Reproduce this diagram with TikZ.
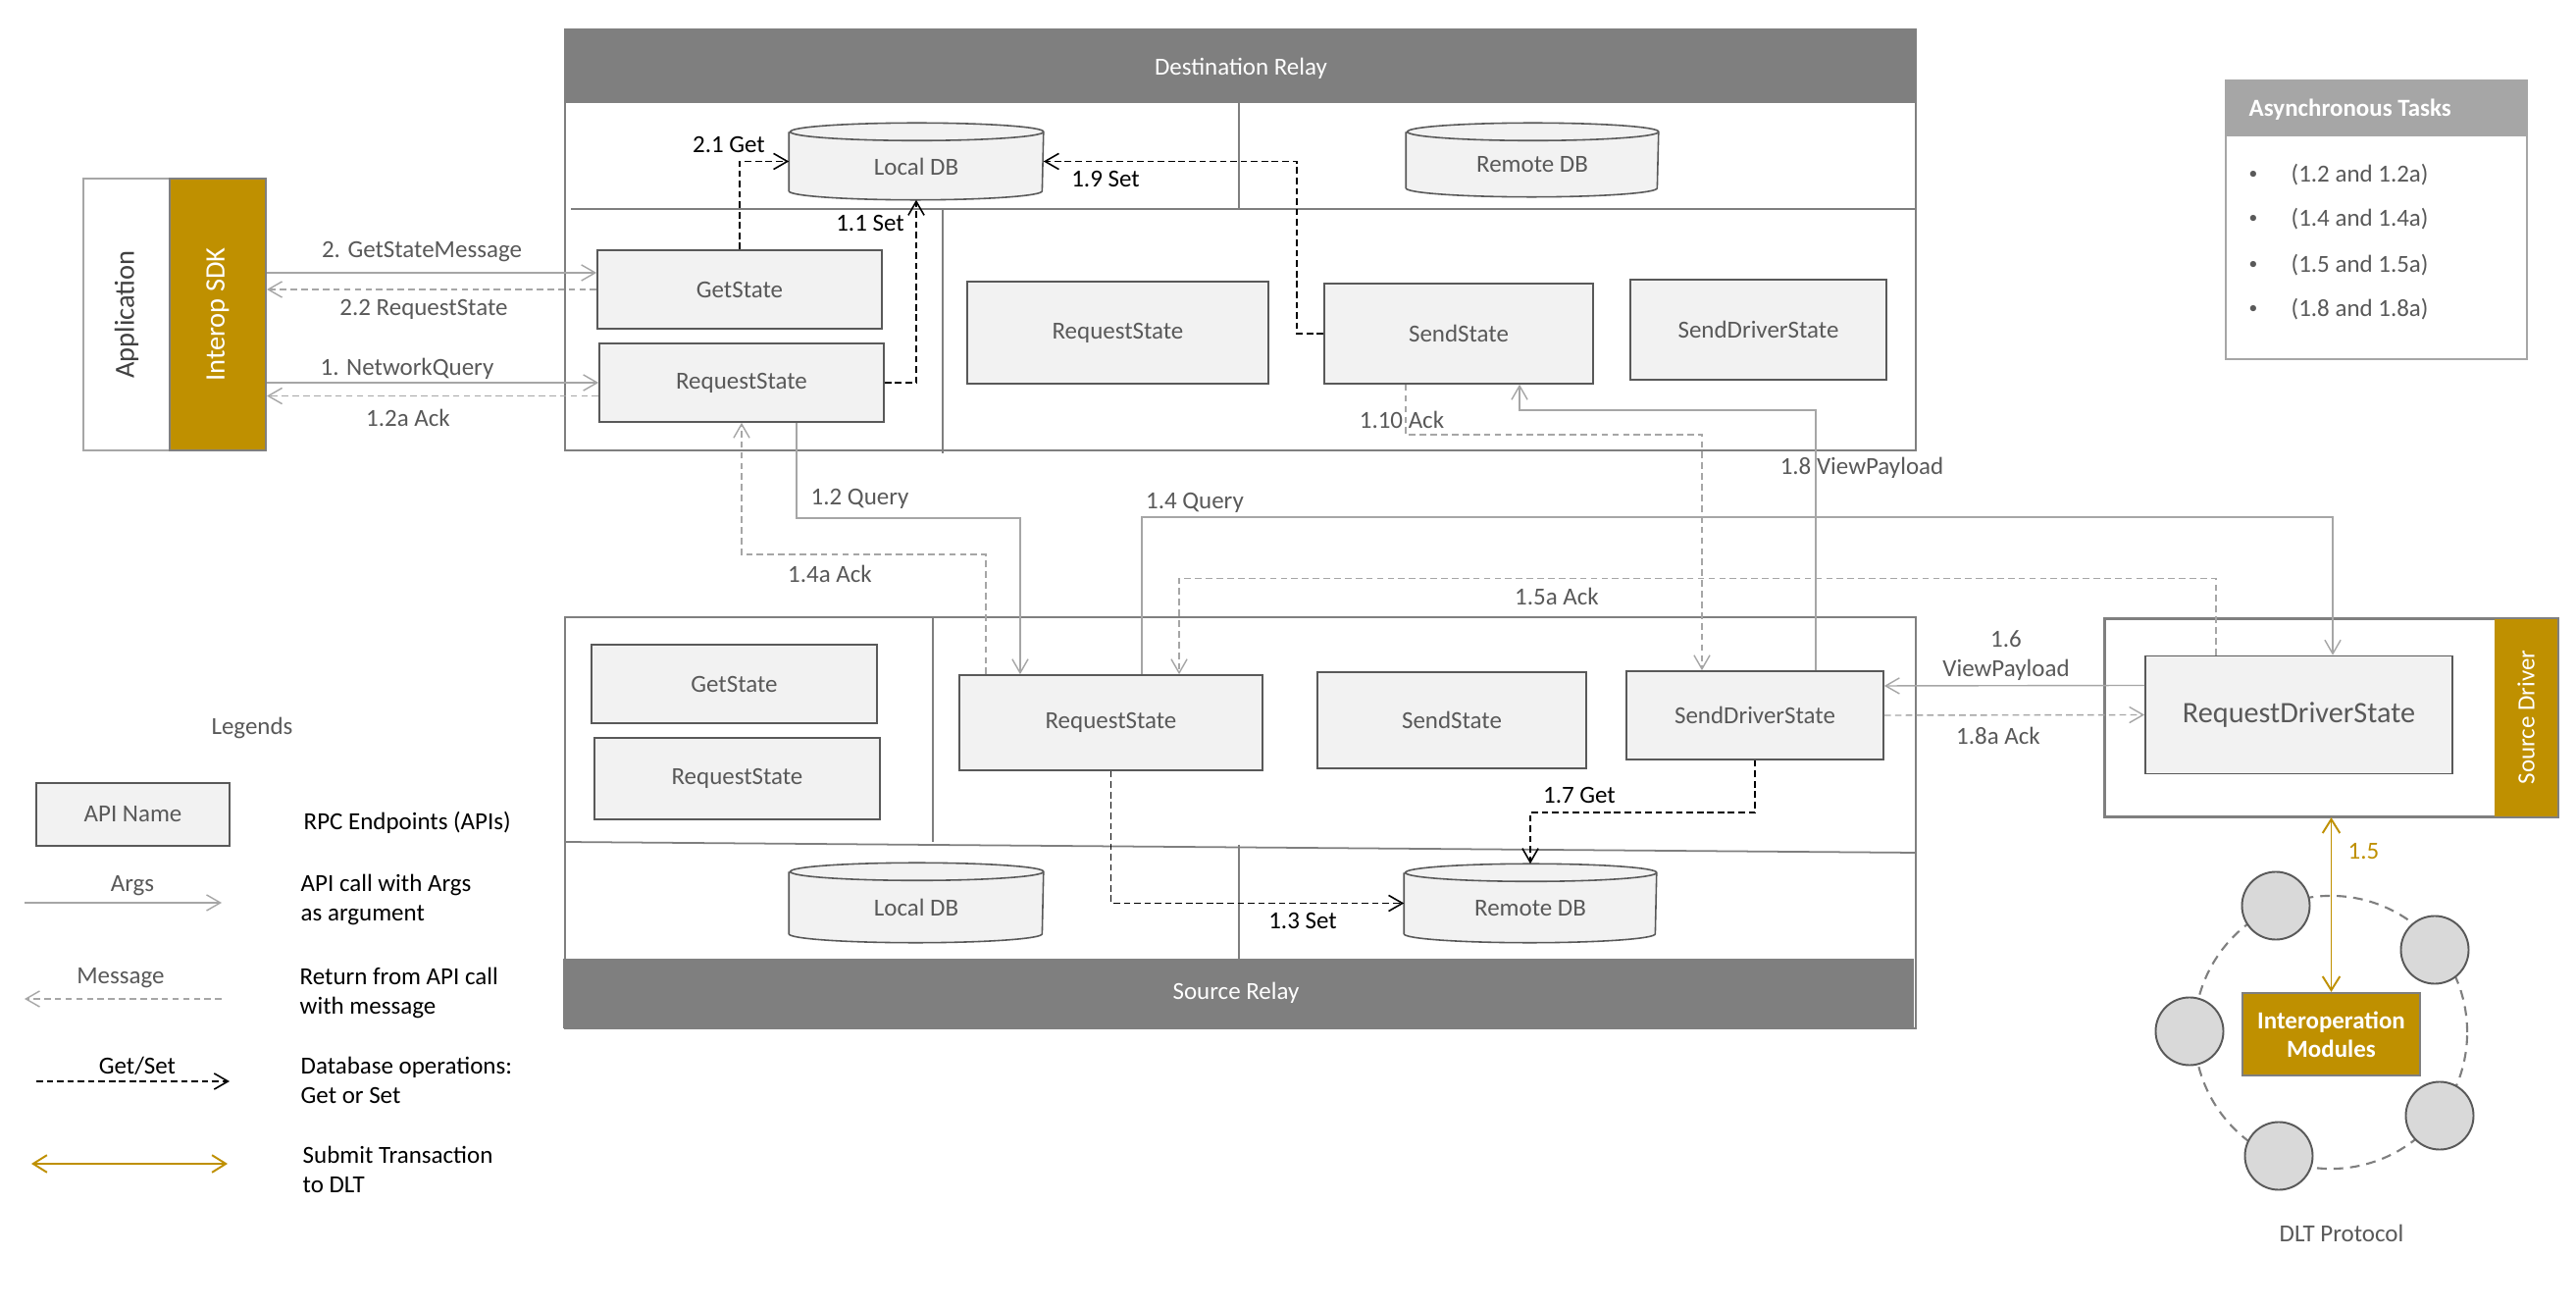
\documentclass[tikz,border=0pt]{standalone}
\usepackage{fontspec}
\setmainfont{Carlito}
\usetikzlibrary{arrows.meta,calc}
\definecolor{gold}{HTML}{BF9000}
\definecolor{boxfill}{HTML}{F2F2F2}
\definecolor{boxline}{HTML}{595959}
\definecolor{relay}{HTML}{7F7F7F}
\definecolor{conn}{HTML}{A6A6A6}
\definecolor{lblgray}{HTML}{595959}
\definecolor{nodefill}{HTML}{D9D9D9}
\tikzset{
 api/.style={draw=boxline, fill=boxfill, line width=0.45pt, text=lblgray, inner sep=0pt},
 dbn/.style={inner sep=0pt},
 lbl/.style={text=lblgray, inner sep=0pt},
 blk/.style={text=black, inner sep=0pt},
 arrtip/.style={-{Straight Barb[length=4pt,width=4.6pt]}},
 argline/.style={draw=conn, line width=0.4pt, arrtip},
 msgline/.style={draw=conn, line width=0.4pt, dash pattern=on 1.9pt off 1.2pt, arrtip},
 dbop/.style={draw=black, line width=0.45pt, dash pattern=on 1.9pt off 1.1pt, arrtip},
 dltline/.style={draw=gold, line width=0.55pt, {Straight Barb[length=4pt,width=5pt]}-{Straight Barb[length=4pt,width=5pt]}},
 relayline/.style={draw=relay, line width=0.6pt},
 dltnode/.style={circle, draw=boxline, fill=nodefill, line width=0.55pt, minimum size=0.69cm, inner sep=0pt},
 bulletnode/.style={text=lblgray, inner sep=0pt, font=\fontsize{5}{6}\selectfont},
}
\newcommand\dbcyl[3]{%
  \fill[boxfill] ([yshift=-#3]#1.north west) -- ([yshift=#3]#1.south west) arc[start angle=180,end angle=360,x radius=#2,y radius=#3] -- ([yshift=-#3]#1.north east) arc[start angle=0,end angle=180,x radius=#2,y radius=#3] -- cycle;
  \draw[boxline,line width=0.45pt] ([yshift=-#3]#1.north west) -- ([yshift=#3]#1.south west) arc[start angle=180,end angle=360,x radius=#2,y radius=#3] -- ([yshift=-#3]#1.north east) arc[start angle=0,end angle=180,x radius=#2,y radius=#3] arc[start angle=180,end angle=360,x radius=#2,y radius=#3];
}
\begin{document}
\begin{tikzpicture}[x=0.01cm, y=-0.01cm, font=\fontsize{7.1}{8.5}\selectfont]
\path[use as bounding box, fill=white] (0,0) rectangle (2626,1334);

% ---------- Destination relay ----------
\fill[relay] (576,30) rectangle (1953,105);
\draw[relayline] (576,30) rectangle (1953,459);
\node[text=white, inner sep=0pt] (tDest) at (1265,70) {Destination Relay};
\draw[relay, line width=0.5pt] (582,213) -- (1953,213);
\draw[relay, line width=0.3pt] (1263,105) -- (1263,213);
\draw[relay, line width=0.3pt] (961,213) -- (961,462);

% ---------- Source relay ----------
\draw[relayline, fill=white] (576,629) rectangle (1953,1048);
\fill[relay] (574,977) rectangle (1951,1048);
\node[text=white, inner sep=0pt] (tSrc) at (1260,1012) {Source Relay};
\draw[relay, line width=0.3pt] (951,629) -- (951,858);
\draw[relay, line width=0.5pt] (576,858) -- (1953,869);
\draw[relay, line width=0.3pt] (1263,861) -- (1263,977);

% ---------- Application / SDK ----------
\node[draw=conn, fill=white, line width=0.5pt, minimum width=0.88cm, minimum height=2.77cm] (app) at (129,320.5) {};
\node[rotate=90, text=black!75, inner sep=0pt, font=\fontsize{8.1}{9}\selectfont] (tApp) at (129,320.5) {Application};
\node[draw=relay, fill=gold, line width=0.6pt, minimum width=0.98cm, minimum height=2.77cm] (sdk) at (222,320.5) {};
\node[rotate=90, text=white, inner sep=0pt, font=\fontsize{8.1}{9}\selectfont] (tSdk) at (222,320.5) {Interop SDK};

% ---------- API boxes ----------
\node[api, minimum width=2.90cm, minimum height=0.80cm] (dGet) at (754,295) {GetState};
\node[api, minimum width=2.90cm, minimum height=0.80cm] (dReq) at (756,390) {RequestState};
\node[api, minimum width=3.07cm, minimum height=1.04cm] (dReqM) at (1139.5,339) {RequestState};
\node[api, minimum width=2.74cm, minimum height=1.02cm] (dSend) at (1487,340) {SendState};
\node[api, minimum width=2.61cm, minimum height=1.02cm] (dSDS) at (1792.5,336) {SendDriverState};

\node[api, minimum width=2.91cm, minimum height=0.80cm] (sGet) at (748.5,697) {GetState};
\node[api, minimum width=2.91cm, minimum height=0.83cm] (sReqL) at (751.5,793.5) {RequestState};
\node[api, minimum width=3.09cm, minimum height=0.97cm] (sReqM) at (1132.5,736.5) {RequestState};
\node[api, minimum width=2.74cm, minimum height=0.98cm] (sSend) at (1480,734) {SendState};
\node[api, minimum width=2.62cm, minimum height=0.90cm] (sSDS) at (1789,729) {SendDriverState};

% ---------- Databases ----------
\node[dbn, minimum width=2.58cm, minimum height=0.77cm] (dLDB) at (934,164.5) {};
\node[dbn, minimum width=2.56cm, minimum height=0.74cm] (dRDB) at (1562,163) {};
\node[dbn, minimum width=2.58cm, minimum height=0.80cm] (sLDB) at (934,920) {};
\node[dbn, minimum width=2.56cm, minimum height=0.79cm] (sRDB) at (1560,920.5) {};
\dbcyl{dLDB}{1.29cm}{0.09cm}
\dbcyl{dRDB}{1.28cm}{0.09cm}
\dbcyl{sLDB}{1.29cm}{0.09cm}
\dbcyl{sRDB}{1.28cm}{0.09cm}
\node[lbl] (tdLDB) at ([yshift=-0.05cm]dLDB.center) {Local DB};
\node[lbl] (tdRDB) at ([yshift=-0.05cm]dRDB.center) {Remote DB};
\node[lbl] (tsLDB) at ([yshift=-0.05cm]sLDB.center) {Local DB};
\node[lbl] (tsRDB) at ([yshift=-0.05cm]sRDB.center) {Remote DB};

% ---------- Source driver ----------
\node[draw=relay, fill=white, line width=0.6pt, minimum width=4.61cm, minimum height=2.01cm] (sDrv) at (2376.5,731.5) {};
\fill[gold] (2543,631) rectangle (2607,832);
\draw[relayline] (sDrv.north west) rectangle (sDrv.south east);
\node[rotate=90, text=white, inner sep=0pt] (tSD) at (2575,731) {Source Driver};
\node[api, font=\fontsize{8.6}{10}\selectfont, minimum width=3.13cm, minimum height=1.20cm] (sRDS) at (2343.5,728.5) {RequestDriverState};

% ---------- SDK connectors ----------
\path ([yshift=0.17cm]dGet.west) coordinate (g1);
\draw[argline] (sdk.east |- g1) -- (g1);
\draw[msgline] (dGet.west) -- (dGet.west -| sdk.east);
\draw[argline] (dReq.west -| sdk.east) -- (dReq.west);
\path ([yshift=-0.135cm]dReq.west) coordinate (r1);
\draw[msgline] (r1) -- (r1 -| sdk.east);
\node[lbl] (l2) at (430,257) {2. GetStateMessage};
\node[lbl] (l22) at (432,315) {2.2 RequestState};
\node[lbl] (l1) at (415,376) {1. NetworkQuery};
\node[lbl] (l12a) at (416,426) {1.2a Ack};

% ---------- DB operations (destination) ----------
\draw[dbop] (dGet.north) |- (dLDB.west);
\node[blk] (l21) at (743,148) {2.1 Get};
\draw[dbop] (dReq.east) -| (dLDB.south);
\node[blk] (l11) at (887,228) {1.1 Set};
\draw[dbop] (dSend.west) -- ++(-27,0) |- (dLDB.east);
\node[blk] (l19) at (1127,183) {1.9 Set};

% ---------- relay to relay ----------
\draw[msgline] ([xshift=-0.54cm]dSend.south) -- ++(0,51) -| ([xshift=-0.54cm]sSDS.north);
\node[lbl] (l110) at (1429,428) {1.10 Ack};
\draw[argline] ([xshift=0.62cm]sSDS.north) -- ++(0,-265) -| ([xshift=0.62cm]dSend.south);
\node[lbl] (l18) at (1898,477) {1.8 ViewPayload};
\draw[argline] ([xshift=0.56cm]dReq.south) -- ++(0,97) -| ([xshift=-0.925cm]sReqM.north);
\node[lbl, anchor=west] (l12) at (826,508) {1.2 Query};
\draw[msgline] ([xshift=-1.275cm]sReqM.north) -- ++(0,-122) -| (dReq.south);
\node[lbl] (l14a) at (846,585) {1.4a Ack};
\draw[argline] ([xshift=0.315cm]sReqM.north) -- ++(0,-160) -| ([xshift=0.345cm]sRDS.north);
\node[lbl] (l14) at (1218,512) {1.4 Query};
\draw[msgline] ([xshift=-0.845cm]sRDS.north) -- ++(0,-78) -| ([xshift=0.695cm]sReqM.north);
\node[lbl] (l15a) at (1587,608) {1.5a Ack};
\draw[argline] ([yshift=0.30cm]sRDS.west) -- ([yshift=0.30cm]sSDS.east);
\node[lbl, align=center] (l16) at (2045,668) {1.6\\ViewPayload};
\draw[msgline] (sSDS.east) -- (sRDS.west);
\node[lbl] (l18a) at (2037,750) {1.8a Ack};

% ---------- DB operations (source) ----------
\draw[dbop] (sReqM.south) |- (sRDB.west);
\node[blk] (l13) at (1328,938) {1.3 Set};
\draw[dbop] (sSDS.south) -- ++(0,53) -| (sRDB.north);
\node[blk] (l17) at (1610,811) {1.7 Get};

% ---------- DLT ----------
\draw[relay, line width=0.6pt, dash pattern=on 2.8pt off 2pt] (2376,1052) circle[radius=1.39cm];
\node[dltnode] (c1) at (2320,923) {};
\node[dltnode] (c2) at (2482,968) {};
\node[dltnode] (c3) at (2232,1051) {};
\node[dltnode] (c4) at (2487,1137) {};
\node[dltnode] (c5) at (2323,1178) {};
\node[draw=relay, fill=gold, line width=0.6pt, minimum width=1.81cm, minimum height=0.84cm, text=white, font=\bfseries\fontsize{7.1}{8.3}\selectfont, align=center, inner sep=0pt] (imod) at (2376.5,1054) {Interoperation\\Modules};
\draw[dltline] (imod.north |- sDrv.south) -- (imod.north);
\node[text=gold, anchor=west, inner sep=0pt] (l15) at (2393,868) {1.5};
\node[lbl] (tDLT) at (2387,1257) {DLT Protocol};

% ---------- Asynchronous tasks ----------
\node[draw=conn, line width=0.7pt, minimum width=3.07cm, minimum height=2.84cm] (async) at (2422.5,224) {};
\fill[conn] (async.north west) rectangle ([yshift=-0.58cm]async.north east);
\node[anchor=west, text=white, inner sep=0pt, font=\bfseries\fontsize{7.1}{8.5}\selectfont] (tAsync) at (2292,112) {Asynchronous Tasks};
\node[bulletnode] (b1) at (2297,178) {\textbullet};
\node[bulletnode] (b2) at (2297,223) {\textbullet};
\node[bulletnode] (b3) at (2297,270) {\textbullet};
\node[bulletnode] (b4) at (2297,315) {\textbullet};
\node[lbl, anchor=west] (i1) at (2335,178) {(1.2 and 1.2a)};
\node[lbl, anchor=west] (i2) at (2335,223) {(1.4 and 1.4a)};
\node[lbl, anchor=west] (i3) at (2335,270) {(1.5 and 1.5a)};
\node[lbl, anchor=west] (i4) at (2335,315) {(1.8 and 1.8a)};

% ---------- Legend ----------
\node[lbl] (tLeg) at (257,742) {Legends};
\node[api, minimum width=1.97cm, minimum height=0.64cm] (legApi) at (135.5,830) {API Name};
\node[blk, anchor=west] (legApiT) at (309,838) {RPC Endpoints (APIs)};
\coordinate (la1) at (25,920); \coordinate (la2) at (226,920);
\draw[argline] (la1) -- (la2);
\node[lbl] (legArgs) at (135,903) {Args};
\node[blk, anchor=west, align=left] (legArgsT) at (306,917) {API call with Args\\as argument};
\coordinate (lm1) at (226,1018); \coordinate (lm2) at (25,1018);
\draw[msgline] (lm1) -- (lm2);
\node[lbl] (legMsg) at (123,997) {Message};
\node[blk, anchor=west, align=left] (legMsgT) at (305,1012) {Return from API call\\with message};
\coordinate (lg1) at (37,1102); \coordinate (lg2) at (234,1102);
\draw[dbop] (lg1) -- (lg2);
\node[blk] (legGS) at (140,1086) {Get/Set};
\node[blk, anchor=west, align=left] (legGST) at (306,1101) {Database operations:\\Get or Set};
\coordinate (lt1) at (32,1186); \coordinate (lt2) at (232,1186);
\draw[dltline] (lt1) -- (lt2);
\node[blk, anchor=west, align=left] (legTT) at (308,1192) {Submit Transaction\\to DLT};
\end{tikzpicture}
\end{document}
